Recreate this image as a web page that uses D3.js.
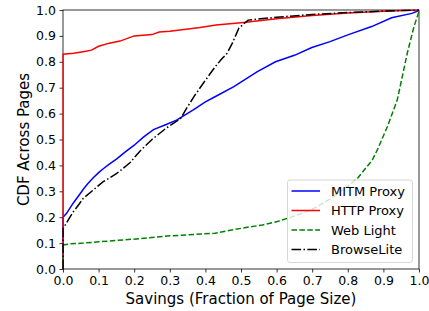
<!DOCTYPE html>
<html>
<head>
<meta charset="utf-8">
<script src="https://cdnjs.cloudflare.com/ajax/libs/d3/7.8.5/d3.min.js"></script>
<style>
  body { margin: 0; background: #fff; }
  svg { display: block; font-family: "DejaVu Sans", sans-serif; }
</style>
</head>
<body>
<svg id="chart"></svg>
<script>
// Chart size
const width = 429;
const height = 311;
const margin = { top: 10, right: 10, bottom: 42, left: 63 };

// Tick values for both axes
const xTicks = [0, 0.1, 0.2, 0.3, 0.4, 0.5, 0.6, 0.7, 0.8, 0.9, 1.0];
const yTicks = [0, 0.1, 0.2, 0.3, 0.4, 0.5, 0.6, 0.7, 0.8, 0.9, 1.0];

// Series names (legend order)
const seriesNames = ["MITM Proxy", "HTTP Proxy", "Web Light", "BrowseLite"];

// CDF points: [savings, cdf]
const mitmProxy = [[0,0],[0,0.2],[0.01,0.215],[0.029,0.255],[0.045,0.285],[0.057,0.308],
  [0.07,0.33],[0.085,0.352],[0.1,0.372],[0.113,0.387],[0.13,0.405],[0.151,0.425],
  [0.175,0.452],[0.2,0.478],[0.225,0.508],[0.254,0.538],[0.29,0.558],[0.319,0.575],
  [0.366,0.614],[0.4,0.645],[0.427,0.665],[0.48,0.704],[0.546,0.762],[0.597,0.8],
  [0.65,0.825],[0.699,0.855],[0.75,0.878],[0.802,0.905],[0.867,0.936],[0.923,0.97],
  [0.98,0.987],[1,0.998]];

const httpProxy = [[0,0],[0,0.829],[0.03,0.833],[0.06,0.84],[0.08,0.845],[0.1,0.86],
  [0.13,0.872],[0.16,0.88],[0.2,0.9],[0.25,0.905],[0.27,0.915],[0.3,0.918],
  [0.385,0.932],[0.43,0.942],[0.507,0.952],[0.6,0.966],[0.7,0.979],[0.8,0.988],
  [0.9,0.995],[1,1]];

const webLight = [[0,0],[0,0.093],[0.02,0.097],[0.057,0.1],[0.1,0.105],[0.197,0.115],
  [0.25,0.122],[0.291,0.127],[0.35,0.132],[0.427,0.138],[0.47,0.15],[0.518,0.161],
  [0.56,0.17],[0.602,0.183],[0.658,0.208],[0.7,0.23],[0.75,0.27],[0.8,0.32],
  [0.827,0.35],[0.869,0.421],[0.883,0.46],[0.911,0.549],[0.939,0.653],[0.967,0.833],
  [0.986,0.936],[1,0.995]];

const browseLite = [[0,0],[0,0.155],[0.015,0.19],[0.029,0.221],[0.045,0.25],[0.057,0.273],
  [0.085,0.305],[0.113,0.337],[0.151,0.369],[0.188,0.41],[0.216,0.455],[0.25,0.5],
  [0.291,0.545],[0.33,0.58],[0.347,0.62],[0.37,0.67],[0.394,0.717],[0.427,0.78],
  [0.445,0.81],[0.461,0.833],[0.475,0.87],[0.494,0.93],[0.52,0.961],[0.6,0.972],
  [0.7,0.983],[0.8,0.99],[0.9,0.996],[1,1]];

const seriesData = [mitmProxy, httpProxy, webLight, browseLite];
const seriesColors = ["#0000ff", "#ff0000", "#008000", "#000000"];
const seriesDash = [null, null, "5.5,2.4", "9.6,2.4,1.5,2.4"];

const svg = d3.select("#chart")
    .attr("width", width)
    .attr("height", height);

const x = d3.scaleLinear().domain([0, 1]).range([margin.left, width - margin.right]);
const y = d3.scaleLinear().domain([0, 1]).range([height - margin.bottom, margin.top]);

// Axes
const xAxis = svg.append("g")
    .attr("transform", `translate(0,${height - margin.bottom})`)
    .call(d3.axisBottom(x).tickValues(xTicks).tickFormat(d3.format(".1f")).tickSize(3.5).tickPadding(3.5));
const yAxis = svg.append("g")
    .attr("transform", `translate(${margin.left},0)`)
    .call(d3.axisLeft(y).tickValues(yTicks).tickFormat(d3.format(".1f")).tickSize(3.5).tickPadding(3.5));

[xAxis, yAxis].forEach(function(g) {
    g.select(".domain").remove();
    g.selectAll("text").attr("font-size", 12.5).attr("fill", "#000")
        .attr("font-family", "DejaVu Sans");
    g.selectAll("line").attr("stroke", "#000").attr("stroke-width", 0.8);
});

// Frame
svg.append("rect")
    .attr("x", margin.left)
    .attr("y", margin.top)
    .attr("width", width - margin.left - margin.right)
    .attr("height", height - margin.top - margin.bottom)
    .attr("fill", "none")
    .attr("stroke", "#000")
    .attr("stroke-width", 0.8);

// Lines (clip box slightly wider than the axes so the x=0 edge shows)
const line = d3.line()
    .x(function(d) { return x(d[0]); })
    .y(function(d) { return y(d[1]); });

svg.append("defs").append("clipPath").attr("id", "plot-clip")
    .append("rect")
    .attr("x", margin.left - 0.8)
    .attr("y", margin.top - 0.8)
    .attr("width", width - margin.left - margin.right + 1.6)
    .attr("height", height - margin.top - margin.bottom + 1.6);

svg.append("g")
    .attr("clip-path", "url(#plot-clip)")
    .selectAll("path")
    .data(seriesData)
    .enter()
    .append("path")
    .attr("d", line)
    .attr("fill", "none")
    .attr("stroke", function(d, i) { return seriesColors[i]; })
    .attr("stroke-width", 1.5)
    .attr("stroke-dasharray", function(d, i) { return seriesDash[i]; });

// Axis labels
svg.append("text")
    .attr("x", (margin.left + width - margin.right) / 2)
    .attr("y", 304)
    .attr("text-anchor", "middle")
    .attr("font-size", 15)
    .text("Savings (Fraction of Page Size)");

svg.append("text")
    .attr("transform", `translate(28.5,${(margin.top + height - margin.bottom) / 2}) rotate(-90)`)
    .attr("text-anchor", "middle")
    .attr("font-size", 15)
    .text("CDF Across Pages");

// Legend
const legend = svg.append("g").attr("transform", "translate(287.5,180)");
legend.append("rect")
    .attr("width", 125)
    .attr("height", 82.5)
    .attr("rx", 2.5)
    .attr("fill", "#fff")
    .attr("fill-opacity", 0.8)
    .attr("stroke", "#cccccc")
    .attr("stroke-width", 0.8);

const items = legend.selectAll(".item")
    .data(seriesNames)
    .enter()
    .append("g")
    .attr("transform", function(d, i) { return `translate(0,${11 + i * 19.5})`; });

items.append("line")
    .attr("x1", 4).attr("x2", 32.5)
    .attr("y1", 0).attr("y2", 0)
    .attr("stroke", function(d, i) { return seriesColors[i]; })
    .attr("stroke-width", 1.5)
    .attr("stroke-dasharray", function(d, i) { return seriesDash[i]; });

items.append("text")
    .attr("x", 43.5)
    .attr("y", 4.7)
    .attr("font-size", 13)
    .text(function(d) { return d; });
</script>
</body>
</html>
